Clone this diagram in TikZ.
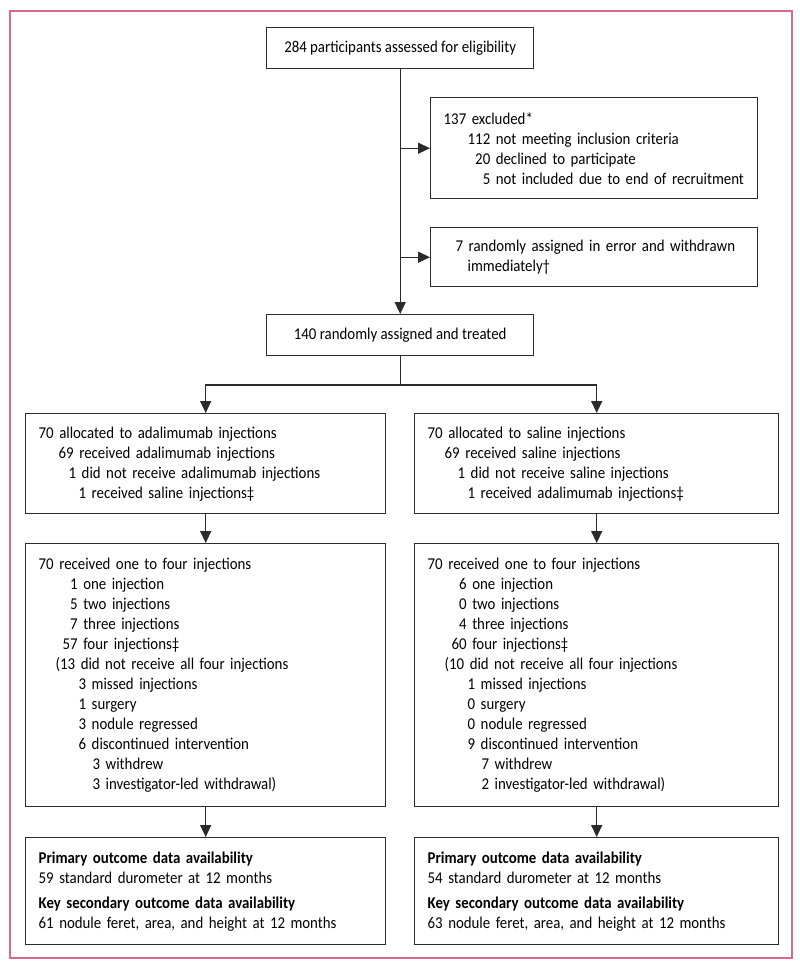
\documentclass[tikz,border=0pt]{standalone}
\usepackage{fontspec}
\setmainfont[FakeStretch=0.9]{Carlito}
\usetikzlibrary{arrows.meta,positioning}
\definecolor{framepink}{HTML}{D9698B}
\definecolor{boxline}{HTML}{2B2B2B}
\newcommand{\ind}[1]{\hspace*{#1pt}}
\newcommand{\pz}{\phantom{0}}

\begin{document}
\begin{tikzpicture}[x=1pt, y=-1pt,
    every node/.style={font=\fontsize{16.5}{20}\selectfont},
    box/.style={draw=boxline, line width=1.4pt, inner xsep=13pt, inner ysep=0pt, align=left, anchor=north west},
    arr/.style={-{Triangle[length=12pt, width=11pt]}, draw=boxline, line width=1.4pt}]
    \useasboundingbox (0,0) rectangle (800,970);
    \draw[framepink, line width=1.5pt] (10,11) rectangle (792,958);
    % screening
    \node[box, align=center, inner xsep=0pt, minimum width=267pt, minimum height=41pt, anchor=north west] (assessed) at (266,27) {284 participants assessed for eligibility};
    \node[box, text width=301pt, minimum height=101pt] (excluded) at (430,97)
        {137 excluded*\\ \ind{24}112 not meeting inclusion criteria\\ \ind{24}\pz20 declined to participate\\ \ind{24}\pz\pz5 not included due to end of recruitment};
    \node[box, text width=301pt, minimum height=59pt] (error) at (430,227)
        {\ind{12}7 randomly assigned in error and withdrawn\\ \ind{24}immediately†};
    \node[box, align=center, inner xsep=0pt, minimum width=267pt, minimum height=41pt] (treated) at (266,314) {140 randomly assigned and treated};
    % allocation
    \node[box, text width=334pt, minimum height=100pt] (allocA) at (25,413)
        {70 allocated to adalimumab injections\\ \ind{20}69 received adalimumab injections\\ \ind{30}1 did not receive adalimumab injections\\ \ind{40}1 received saline injections‡};
    \node[box, text width=338pt, minimum height=100pt] (allocB) at (414,413)
        {70 allocated to saline injections\\ \ind{17}69 received saline injections\\ \ind{30}1 did not receive saline injections\\ \ind{40}1 received adalimumab injections‡};
    % injections
    \node[box, text width=334pt, minimum height=263pt] (injA) at (25,543)
        {70 received one to four injections\\
         \ind{24}\pz1 one injection\\
         \ind{24}\pz5 two injections\\
         \ind{24}\pz7 three injections\\
         \ind{24}57 four injections‡\\
         \ind{17}(13 did not receive all four injections\\
         \ind{40}3 missed injections\\
         \ind{40}1 surgery\\
         \ind{40}3 nodule regressed\\
         \ind{40}6 discontinued intervention\\
         \ind{54}3 withdrew\\
         \ind{54}3 investigator-led withdrawal)};
    \node[box, text width=338pt, minimum height=263pt] (injB) at (414,543)
        {70 received one to four injections\\
         \ind{24}\pz6 one injection\\
         \ind{24}\pz0 two injections\\
         \ind{24}\pz4 three injections\\
         \ind{24}60 four injections‡\\
         \ind{17}(10 did not receive all four injections\\
         \ind{40}1 missed injections\\
         \ind{40}0 surgery\\
         \ind{40}0 nodule regressed\\
         \ind{40}9 discontinued intervention\\
         \ind{54}7 withdrew\\
         \ind{54}2 investigator-led withdrawal)};
    % outcomes
    \node[box, text width=334pt, minimum height=107pt] (outA) at (25,837)
        {\textbf{Primary outcome data availability}\\ 59 standard durometer at 12 months\\[5pt]
         \textbf{Key secondary outcome data availability}\\ 61 nodule feret, area, and height at 12 months};
    \node[box, text width=338pt, minimum height=107pt] (outB) at (414,837)
        {\textbf{Primary outcome data availability}\\ 54 standard durometer at 12 months\\[5pt]
         \textbf{Key secondary outcome data availability}\\ 63 nodule feret, area, and height at 12 months};
    % connectors
    \coordinate (split) at (treated.south |- 0,385);
    \draw[arr] (assessed) -- (treated);
    \draw[arr] (assessed.south |- excluded.west) -- (excluded);
    \draw[arr] (assessed.south |- error.west) -- (error);
    \draw[draw=boxline, line width=1.4pt] (treated) -- (split);
    \draw[arr] (split) -| (allocA);
    \draw[arr] (split) -| (allocB);
    \draw[arr] (allocA) -- (injA);
    \draw[arr] (allocB) -- (injB);
    \draw[arr] (injA) -- (outA);
    \draw[arr] (injB) -- (outB);
\end{tikzpicture}
\end{document}
